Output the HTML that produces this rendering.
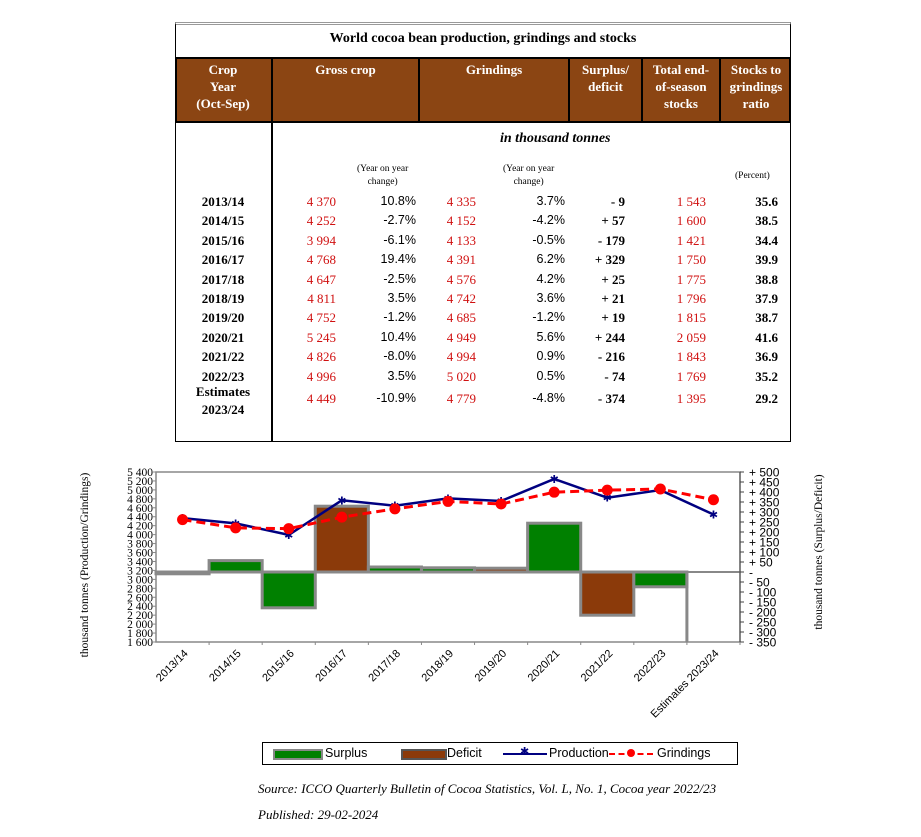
<!DOCTYPE html>
<html><head><meta charset="utf-8">
<style>
body{margin:0;background:#fff;width:921px;height:837px;position:relative;overflow:hidden;font-family:"Liberation Serif",serif}
.a{position:absolute;white-space:nowrap}
.hd{position:absolute;top:57px;height:66px;color:#fff;font-weight:bold;font-size:13px;text-align:center;line-height:17px;padding-top:4px;box-sizing:border-box}
.r{position:absolute;text-align:right;font-size:13px}
.red{color:#d01010}
.b{font-weight:bold}
.p{font-family:"Liberation Sans",sans-serif;font-size:12.5px}
</style></head><body>
<div>
<div class="a" style="left:175px;top:22px;width:616px;height:420px;border:1px solid #000;border-top:3px double #999;box-sizing:border-box"></div>
<div class="a b" style="left:175px;top:31px;width:616px;text-align:center;font-size:14px">World cocoa bean production, grindings and stocks</div>
<div class="a" style="left:175px;top:57px;width:616px;height:66px;background:#8b4513;border:2px solid #000;box-sizing:border-box"></div>
<div class="a" style="left:271px;top:57px;width:2px;height:385px;background:#000"></div>
<div class="a" style="left:418px;top:57px;width:2px;height:66px;background:#000"></div>
<div class="a" style="left:568px;top:57px;width:2px;height:66px;background:#000"></div>
<div class="a" style="left:641px;top:57px;width:2px;height:66px;background:#000"></div>
<div class="a" style="left:719px;top:57px;width:2px;height:66px;background:#000"></div>
<div class="hd" style="left:175px;width:96px">Crop<br>Year<br>(Oct-Sep)</div>
<div class="hd" style="left:273px;width:145px">Gross crop</div>
<div class="hd" style="left:420px;width:148px">Grindings</div>
<div class="hd" style="left:570px;width:71px">Surplus/<br>deficit</div>
<div class="hd" style="left:643px;width:76px">Total end-<br>of-season<br>stocks</div>
<div class="hd" style="left:721px;width:70px">Stocks to<br>grindings<br>ratio</div>
<div class="a b" style="left:500px;top:131px;font-style:italic;font-size:14px">in thousand tonnes</div>
<div class="a" style="left:357px;top:163px;font-size:9.5px;text-align:center;line-height:13px">(Year on year<br>change)</div>
<div class="a" style="left:503px;top:163px;font-size:9.5px;text-align:center;line-height:13px">(Year on year<br>change)</div>
<div class="a" style="left:735px;top:171px;font-size:9.5px">(Percent)</div>
<div id="rows"></div>
</div>
<svg id="chart" style="position:absolute;left:0;top:0" width="921" height="837"></svg>
<div class="a" style="left:262px;top:742px;width:476px;height:23px;border:1px solid #000;box-sizing:border-box;font-family:'Liberation Sans',sans-serif;font-size:12.5px">
<div class="a" style="left:10px;top:6px;width:46px;height:7px;background:#008000;border:2px solid #888"></div><div class="a" style="left:62px;top:3px">Surplus</div>
<div class="a" style="left:138px;top:6px;width:42px;height:7px;background:#8b3a0a;border:2px solid #555"></div><div class="a" style="left:184px;top:3px">Deficit</div>
<div class="a" style="left:240px;top:10px;width:44px;height:2px;background:#000080"></div><div class="a" style="left:257px;top:2px;color:#000080;font-size:11px">✱</div><div class="a" style="left:286px;top:3px">Production</div>
<div class="a" style="left:346px;top:10px;width:44px;border-top:2px dashed #f00"></div><div class="a" style="left:364px;top:6px;width:8px;height:8px;border-radius:50%;background:#f00"></div><div class="a" style="left:394px;top:3px">Grindings</div>
</div>
<div class="a" style="left:258px;top:781px;font-style:italic;font-size:13px">Source: ICCO Quarterly Bulletin of Cocoa Statistics, Vol. L, No. 1, Cocoa year 2022/23</div>
<div class="a" style="left:258px;top:807px;font-style:italic;font-size:13px">Published: 29-02-2024</div>
<script>
const years=["2013/14","2014/15","2015/16","2016/17","2017/18","2018/19","2019/20","2020/21","2021/22","2022/23","Estimates 2023/24"];
const production=[4370,4252,3994,4768,4647,4811,4752,5245,4826,4996,4449];
const prodChange=["10.8%","-2.7%","-6.1%","19.4%","-2.5%","3.5%","-1.2%","10.4%","-8.0%","3.5%","-10.9%"];
const grindings=[4335,4152,4133,4391,4576,4742,4685,4949,4994,5020,4779];
const grindChange=["3.7%","-4.2%","-0.5%","6.2%","4.2%","3.6%","-1.2%","5.6%","0.9%","0.5%","-4.8%"];
const surplus=[-9,57,-179,329,25,21,19,244,-216,-74,-374];
const stocks=[1543,1600,1421,1750,1775,1796,1815,2059,1843,1769,1395];
const ratio=["35.6","38.5","34.4","39.9","38.8","37.9","38.7","41.6","36.9","35.2","29.2"];
const barColors=["#008000","#008000","#008000","#8b3a0a","#008000","#008000","#8b3a0a","#008000","#8b3a0a","#008000","#008000"];
const leftTicks=[1600,1800,2000,2200,2400,2600,2800,3000,3200,3400,3600,3800,4000,4200,4400,4600,4800,5000,5200,5400];
const rightTicks=[-350,-300,-250,-200,-150,-100,-50,0,50,100,150,200,250,300,350,400,450,500];
const fmt=v=>{const s=String(Math.abs(v));return s.length>3?s.slice(0,-3)+" "+s.slice(-3):s;};
const R=document.getElementById('rows');
years.forEach((y,i)=>{
  const top=i<10?194+i*19.4:391;
  const row=document.createElement('div');
  
  
  let yl=i<10?`<div class="a b" style="left:175px;width:96px;text-align:center;top:${top}px;font-size:13px">${y}</div>`:
   `<div class="a b" style="left:175px;width:96px;text-align:center;top:${383}px;font-size:13px;line-height:18px">Estimates<br>2023/24</div>`;
  const s=surplus[i]>0?"+ "+surplus[i]:"- "+Math.abs(surplus[i]);
  row.innerHTML=yl+
   `<div class="r red" style="right:585px;top:${top}px">${fmt(production[i])}</div>`+
   `<div class="r p" style="right:505px;top:${top}px">${prodChange[i]}</div>`+
   `<div class="r red" style="right:445px;top:${top}px">${fmt(grindings[i])}</div>`+
   `<div class="r p" style="right:356px;top:${top}px">${grindChange[i]}</div>`+
   `<div class="r b" style="right:296px;top:${top}px">${s}</div>`+
   `<div class="r red" style="right:215px;top:${top}px">${fmt(stocks[i])}</div>`+
   `<div class="r b" style="right:143px;top:${top}px">${ratio[i]}</div>`;
  R.appendChild(row);
});
const svg=document.getElementById('chart');const NS='http://www.w3.org/2000/svg';
const X0=156,X1=740,Y0=472,Y1=642;
const cw=(X1-X0)/years.length;
const xc=i=>X0+cw*(i+0.5);
const yL=v=>Y1-(v-1600)/(5400-1600)*(Y1-Y0);
const yR=v=>Y1-(v+350)/850*(Y1-Y0);
function el(t,a,name){const e=document.createElementNS(NS,t);for(const k in a)e.setAttribute(k,a[k]);
 
 
 svg.appendChild(e);return e;}
el('rect',{x:X0,y:Y0,width:X1-X0,height:Y1-Y0,fill:'none',stroke:'#888','stroke-width':1.5},'plot-area');
surplus.forEach((v,i)=>{
  const y0=yR(0),yv=yR(Math.max(v,-350));
  const x=X0+cw*i;
  if(i==10){el('line',{x1:x,y1:y0,x2:x,y2:Y1,stroke:'#888','stroke-width':3},'bar-estimate');return;}
  el('rect',{x:x,y:Math.min(y0,yv),width:cw,height:Math.max(Math.abs(yv-y0),1),fill:barColors[i],stroke:'#888','stroke-width':3},'bar-'+years[i]);
});
el('line',{x1:X0,y1:yR(0),x2:X1,y2:yR(0),stroke:'#888','stroke-width':2},'zero-line');
el('polyline',{points:production.map((v,i)=>xc(i)+','+yL(v)).join(' '),fill:'none',stroke:'#000080','stroke-width':2.5},'production-line');
production.forEach((v,i)=>{const t=el('text',{x:xc(i),y:yL(v)+4,'text-anchor':'middle','font-size':11,fill:'#000080','font-family':'Liberation Sans'},'production-point');t.textContent='✱';});
el('polyline',{points:grindings.map((v,i)=>xc(i)+','+yL(v)).join(' '),fill:'none',stroke:'#f00','stroke-width':3,'stroke-dasharray':'9,5'},'grindings-line');
grindings.forEach((v,i)=>el('circle',{cx:xc(i),cy:yL(v),r:5.5,fill:'#f00'},'grindings-point'));
el('line',{x1:X0,y1:Y0,x2:X0,y2:Y1,stroke:'#888'},'left-axis');
el('line',{x1:X1,y1:Y0,x2:X1,y2:Y1,stroke:'#444'},'right-axis');
leftTicks.forEach(v=>{el('line',{x1:X0-3,y1:yL(v),x2:X0,y2:yL(v),stroke:'#888'},'left-tick');
 const t=el('text',{x:X0-3,y:yL(v)+4,'text-anchor':'end','font-size':11.5,'font-family':'Liberation Serif'},'left-tick-label');t.textContent=fmt(v);});
rightTicks.forEach(v=>{el('line',{x1:X1,y1:yR(v),x2:X1+4,y2:yR(v),stroke:'#444'},'right-tick');
 const t=el('text',{x:X1+9,y:yR(v)+4.5,'font-size':12,'font-family':'Liberation Sans'},'right-tick-label');t.textContent=v==0?'-':(v>0?'+ ':'- ')+Math.abs(v);});
years.forEach((y,i)=>{el('line',{x1:X0+cw*(i+1),y1:Y1,x2:X0+cw*(i+1),y2:Y1+3,stroke:'#888'},'x-tick');
 const t=el('text',{x:xc(i)+6,y:Y1+12,'text-anchor':'end','font-size':11,'font-family':'Liberation Sans',transform:`rotate(-45 ${xc(i)+6} ${Y1+12})`},'x-tick-label');t.textContent=y;});
let t=el('text',{x:88,y:565,'text-anchor':'middle','font-size':11.5,transform:'rotate(-90 88 565)'},'left-axis-title');t.textContent='thousand tonnes (Production/Grindings)';
t=el('text',{x:822,y:552,'text-anchor':'middle','font-size':11.5,transform:'rotate(-90 822 552)'},'right-axis-title');t.textContent='thousand tonnes (Surplus/Deficit)';
</script>
</body></html>
